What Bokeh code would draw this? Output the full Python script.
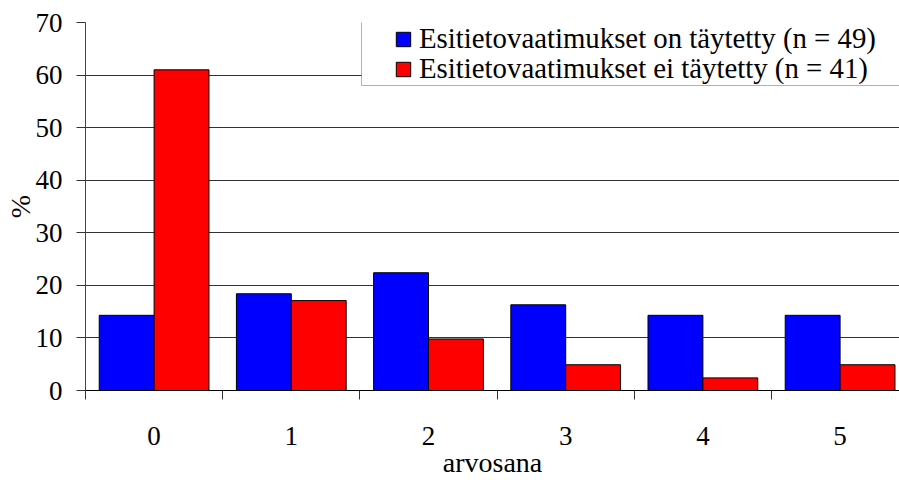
import math
from bokeh.plotting import figure
from bokeh.models import (ColumnDataSource, FixedTicker, Legend, LegendItem,
                          BoxAnnotation, Range1d)
from bokeh.transform import dodge
from bokeh.embed import file_html
from bokeh.resources import INLINE

# ---- data ----
grades = [0, 1, 2, 3, 4, 5]
tick_labels = ["0", "1", "2", "3", "4", "5"]
met = [14.3, 18.4, 22.4, 16.3, 14.3, 14.3]          # n = 49
not_met = [61.0, 17.1, 9.8, 4.9, 2.4, 4.9]          # n = 41
label_met = "Esitietovaatimukset on täytetty (n = 49)"
label_not = "Esitietovaatimukset ei täytetty (n = 41)"
y_ticks = [0, 10, 20, 30, 40, 50, 60, 70]
x_title = "arvosana"
y_title = "%"

FONT = "Liberation Serif"
FS = "27px"

p = figure(width=899, height=480, output_backend="svg", toolbar_location=None,
           x_range=Range1d(-0.5, 5.433), y_range=Range1d(0, 70),
           min_border_left=85, min_border_top=22, min_border_right=0,
           min_border_bottom=89)
p.outline_line_color = None
p.background_fill_color = "white"

src = ColumnDataSource(dict(x=grades, met=met, not_met=not_met))
r1 = p.vbar(x=dodge("x", -0.2), top="met", width=0.4, source=src,
            fill_color="#0000FF", line_color="black", line_width=1)
r2 = p.vbar(x=dodge("x", 0.2), top="not_met", width=0.4, source=src,
            fill_color="#FF0000", line_color="black", line_width=1)

# x axis: labels at centres, ticks between categories (minor ticks)
xa = p.xaxis[0]
xa.ticker = FixedTicker(ticks=grades, minor_ticks=[g - 0.5 for g in grades] + [grades[-1] + 0.5])
xa.major_label_overrides = {g: t for g, t in zip(grades, tick_labels)}
xa.major_tick_out = 0
xa.major_tick_in = 0
xa.minor_tick_out = 9
xa.minor_tick_in = 0
xa.minor_tick_line_color = "#333333"
xa.axis_line_color = "black"
xa.major_label_standoff = 27
xa.major_label_text_font = FONT
xa.major_label_text_font_size = FS
xa.major_label_text_color = "black"
xa.axis_label = x_title
xa.axis_label_standoff = -1
xa.axis_label_text_font = FONT
xa.axis_label_text_font_size = "28px"
xa.axis_label_text_font_style = "normal"
xa.axis_label_text_color = "black"

ya = p.yaxis[0]
ya.ticker = FixedTicker(ticks=y_ticks)
ya.major_tick_out = 9
ya.major_tick_in = 0
ya.minor_tick_line_color = None
ya.major_tick_line_color = "#333333"
ya.axis_line_color = "#444444"
ya.major_label_standoff = 14
ya.major_label_text_font = FONT
ya.major_label_text_font_size = FS
ya.major_label_text_color = "black"
ya.axis_label = y_title
ya.axis_label_standoff = -3
ya.axis_label_text_font = FONT
ya.axis_label_text_font_size = "28px"
ya.axis_label_text_font_style = "normal"
ya.axis_label_text_color = "black"

p.xgrid.visible = False
p.ygrid.ticker = FixedTicker(ticks=y_ticks)
p.ygrid.grid_line_color = "#333333"
p.ygrid.grid_line_width = 1

# legend frame
p.add_layout(BoxAnnotation(left=276, right=1000, bottom=305, top=369,
                           left_units="screen", right_units="screen",
                           bottom_units="screen", top_units="screen",
                           fill_color="white", fill_alpha=1.0,
                           line_color="black", line_width=1))

legend_style = dict(padding=1, spacing=0, margin=0,
                    glyph_width=18, glyph_height=18, label_standoff=7,
                    label_height=27,
                    label_text_font=FONT, label_text_font_size="28.8px",
                    label_text_color="black",
                    border_line_color=None, background_fill_alpha=0)
for item, loc in ((LegendItem(label=label_met, renderers=[r1]), (309, 335)),
                  (LegendItem(label=label_not, renderers=[r2]), (309, 305))):
    p.add_layout(Legend(items=[item], location=loc, **legend_style))

open("out.html", "w").write(file_html(p, INLINE))
